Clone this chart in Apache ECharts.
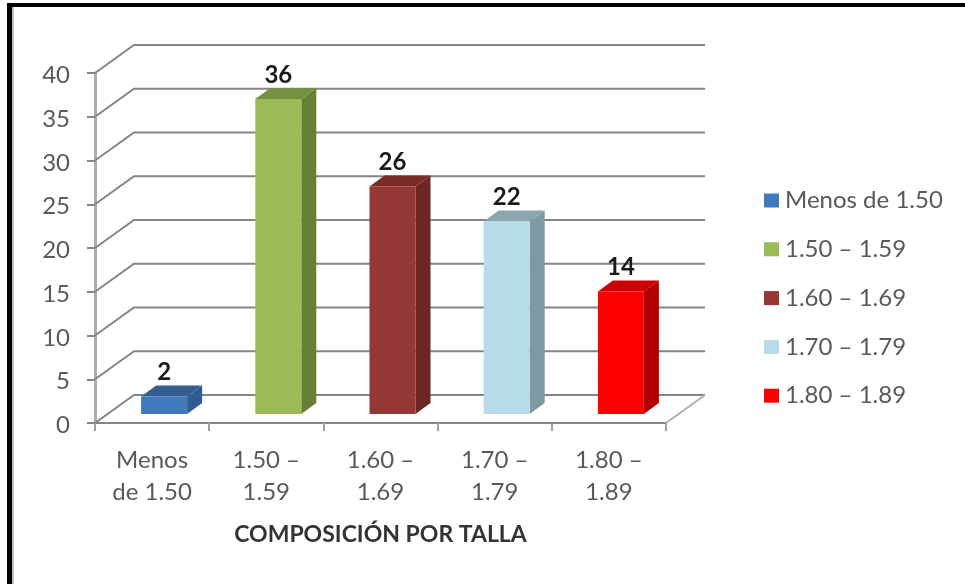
<!DOCTYPE html>
<html>
<head>
<meta charset="utf-8">
<style>html,body{margin:0;padding:0;background:#fff}#c{width:965px;height:584px}</style>
<script src="https://cdn.jsdelivr.net/npm/echarts@6/dist/echarts.min.js"></script>
</head>
<body>
<div id="c"></div>
<script>
var categories = ['Menos de 1.50', '1.50 – 1.59', '1.60 – 1.69', '1.70 – 1.79', '1.80 – 1.89'];
var tickLabels = ['Menos\nde 1.50', '1.50 –\n1.59', '1.60 –\n1.69', '1.70 –\n1.79', '1.80 –\n1.89'];
var values = [2, 36, 26, 22, 14];
var yTicks = [0, 5, 10, 15, 20, 25, 30, 35, 40];
var xTitle = 'COMPOSICIÓN POR TALLA';
var frontColors = ['#4079bd', '#9bbb59', '#953735', '#b7dbe8', '#ff0000'];
var sideColors = ['#2f5c92', '#697f38', '#6c2624', '#7f99a2', '#b00000'];
var topColors = ['#365f91', '#75903f', '#7c2a28', '#8ba6af', '#cc0000'];

var WALL_DX = 39, WALL_DY = -28;
var BAR_DX = 12, BAR_DY = -9, BAR_W = 46, SIDE_DX = 15, SIDE_DY = -11;
var FONT = 'Lato, Carlito, "Open Sans", sans-serif';

function wallItem(params, api) {
  var v = api.value(0);
  var sys = params.coordSys;
  var y = api.coord([0, v])[1];
  var x0 = sys.x, x1 = sys.x + sys.width;
  var lineStyle = { stroke: '#858585', lineWidth: 2, fill: null };
  var children = [{
    type: 'polyline',
    shape: { points: [[x0, y], [x0 + WALL_DX, y + WALL_DY], [x1 + WALL_DX, y + WALL_DY]] },
    style: lineStyle
  }];
  if (v === 0) {
    children.push({
      type: 'line',
      shape: { x1: x1, y1: y, x2: x1 + WALL_DX, y2: y + WALL_DY },
      style: { stroke: '#b0b0b0', lineWidth: 2 }
    });
  }
  return { type: 'group', children: children };
}

function barRenderer(idx) {
  return function (params, api) {
    var top = api.coord([api.value(0), api.value(1)]);
    var base = api.coord([api.value(0), 0]);
    var xl = top[0] - BAR_W / 2 + BAR_DX, xr = xl + BAR_W;
    var yt = top[1] + BAR_DY, yb = base[1] + BAR_DY;
    return {
      type: 'group',
      children: [
        { type: 'polygon', shape: { points: [[xr, yt], [xr + SIDE_DX, yt + SIDE_DY], [xr + SIDE_DX, yb + SIDE_DY], [xr, yb]] }, style: { fill: sideColors[idx] } },
        { type: 'polygon', shape: { points: [[xl, yt], [xl + SIDE_DX, yt + SIDE_DY], [xr + SIDE_DX, yt + SIDE_DY], [xr, yt]] }, style: { fill: topColors[idx] } },
        { type: 'rect', shape: { x: xl, y: yt, width: BAR_W, height: yb - yt }, style: { fill: frontColors[idx] } },
        { type: 'text', style: {
            text: String(api.value(1)), x: xl + BAR_W / 2, y: yt + SIDE_DY - 1,
            align: 'center', verticalAlign: 'bottom',
            font: 'bold 24px ' + FONT, fill: '#1a1a1a'
        } }
      ]
    };
  };
}

var series = [{
  type: 'custom', name: 'wall', silent: true, z: 1, clip: false,
  coordinateSystem: 'cartesian2d',
  data: yTicks.map(function (v) { return [v]; }),
  encode: { y: 0 },
  renderItem: wallItem
}];
categories.forEach(function (name, i) {
  series.push({
    type: 'custom', name: name, z: 3, clip: false,
    coordinateSystem: 'cartesian2d',
    itemStyle: { color: frontColors[i] },
    data: [[i, values[i]]],
    encode: { x: 0, y: 1 },
    renderItem: barRenderer(i)
  });
});

var chart = echarts.init(document.getElementById('c'), null, { renderer: 'canvas' });
chart.setOption({
  animation: false,
  backgroundColor: '#ffffff',
  textStyle: { fontFamily: FONT },
  grid: { left: 95, right: 299, top: 73, bottom: 161, containLabel: false },
  graphic: [
    { type: 'rect', shape: { x: 7, y: 3, width: 958, height: 4 }, style: { fill: '#000' }, z: 10 },
    { type: 'rect', shape: { x: 7, y: 3, width: 5, height: 581 }, style: { fill: '#000' }, z: 10 },
    { type: 'rect', shape: { x: 12, y: 7, width: 2, height: 577 }, style: { fill: '#bdbdbd' }, z: 10 }
  ],
  legend: {
    orient: 'vertical', left: 759, top: 183.5,
    itemWidth: 15, itemHeight: 14, itemGap: 24.8, icon: 'rect',
    data: categories,
    textStyle: { fontFamily: FONT, fontSize: 24, color: '#595959', padding: [0, 0, 0, 1] }
  },
  xAxis: {
    type: 'category', data: categories,
    name: xTitle, nameLocation: 'middle', nameGap: 100,
    nameTextStyle: { fontFamily: FONT, fontSize: 23, fontWeight: 'bold', color: '#333333' },
    axisLine: { lineStyle: { color: '#868686', width: 2 } },
    axisTick: { show: true, length: 8, alignWithLabel: false, lineStyle: { color: '#a0a0a0', width: 2 } },
    axisLabel: {
      interval: 0, margin: 21, fontSize: 24, lineHeight: 32, color: '#595959', fontFamily: FONT,
      formatter: function (v, i) { return tickLabels[i]; }
    },
    splitLine: { show: false }
  },
  yAxis: {
    type: 'value', min: 0, max: 40, interval: 5,
    axisLine: { show: true, lineStyle: { color: '#adadad', width: 3 } },
    axisTick: { show: true, length: 8, lineStyle: { color: '#868686', width: 2 } },
    axisLabel: { margin: 25, fontSize: 24, color: '#595959', fontFamily: FONT, verticalAlign: 'top', lineHeight: 5 },
    splitLine: { show: false }
  },
  series: series
});
</script>
</body>
</html>
